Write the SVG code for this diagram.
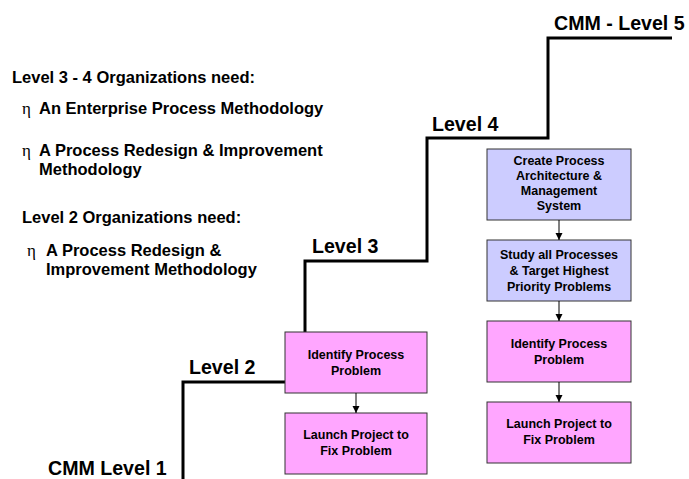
<svg xmlns="http://www.w3.org/2000/svg" width="689" height="479" viewBox="0 0 689 479">
  <defs>
    <marker id="arrowhead" viewBox="0 0 10 10" refX="10" refY="5" markerWidth="7" markerHeight="8" markerUnits="userSpaceOnUse" orient="auto">
      <path d="M0,0 L10,5 L0,10 z" fill="#000"/>
    </marker>
  </defs>
  <style>
    text { font-family: "Liberation Sans", Arial, sans-serif; font-weight: bold; fill: #000; }
    .lvl { font-size: 19.6px; }
    .head { font-size: 16.5px; }
    .item { font-size: 16.5px; }
    .bullet { font-family: "Liberation Serif", "Times New Roman", serif; font-weight: normal; font-size: 17px; }
    .box text { font-size: 12.5px; text-anchor: middle; }
    .blue rect { fill: #CCCCFF; stroke: #333; stroke-width: 1; }
    .pink rect { fill: #FFA6FF; stroke: #333; stroke-width: 1; }
    .stair { fill: none; stroke: #000; stroke-width: 3; }
    .flow { fill: none; stroke: #000; stroke-width: 1; marker-end: url(#arrowhead); }
  </style>

  <rect width="689" height="479" fill="#fff"/>

  <!-- maturity staircase -->
  <g id="staircase">
    <path class="stair" d="M183,479 V382 H285"/>
    <path class="stair" d="M305,332 V261 H427 V138 H548 V38 H672"/>
    <text class="lvl" x="48" y="475">CMM Level 1</text>
    <text class="lvl" x="189" y="374">Level 2</text>
    <text class="lvl" x="312" y="253">Level 3</text>
    <text class="lvl" x="432" y="131">Level 4</text>
    <text class="lvl" x="554" y="30">CMM - Level 5</text>
  </g>

  <!-- organisational needs -->
  <g id="needs">
    <text class="head" x="12" y="83">Level 3 - 4 Organizations need:</text>
    <text class="bullet" x="22" y="114">η</text>
    <text class="item" x="39" y="114">An Enterprise Process Methodology</text>
    <text class="bullet" x="22" y="156">η</text>
    <text class="item" x="39" y="156">A Process Redesign &amp; Improvement</text>
    <text class="item" x="39" y="175">Methodology</text>
    <text class="head" x="22" y="223">Level 2 Organizations need:</text>
    <text class="bullet" x="27" y="256">η</text>
    <text class="item" x="46" y="256">A Process Redesign &amp;</text>
    <text class="item" x="46" y="275">Improvement Methodology</text>
  </g>

  <!-- level 2 process -->
  <g id="l2-identify" class="box pink">
    <rect x="285" y="332" width="142" height="61"/>
    <text x="356" y="359">Identify Process</text>
    <text x="356" y="375">Problem</text>
  </g>
  <g id="l2-launch" class="box pink">
    <rect x="285" y="413" width="142" height="61"/>
    <text x="356" y="439">Launch Project to</text>
    <text x="356" y="455">Fix Problem</text>
  </g>

  <!-- level 4/5 process -->
  <g id="l5-architecture" class="box blue">
    <rect x="487" y="149" width="144" height="71"/>
    <text x="559" y="165">Create Process</text>
    <text x="559" y="180">Architecture &amp;</text>
    <text x="559" y="195">Management</text>
    <text x="559" y="210">System</text>
  </g>
  <g id="l5-study" class="box blue">
    <rect x="487" y="240" width="144" height="61"/>
    <text x="559" y="259">Study all Processes</text>
    <text x="559" y="275">&amp; Target Highest</text>
    <text x="559" y="291">Priority Problems</text>
  </g>
  <g id="l5-identify" class="box pink">
    <rect x="487" y="321" width="144" height="61"/>
    <text x="559" y="348">Identify Process</text>
    <text x="559" y="364">Problem</text>
  </g>
  <g id="l5-launch" class="box pink">
    <rect x="487" y="402" width="144" height="61"/>
    <text x="559" y="428">Launch Project to</text>
    <text x="559" y="444">Fix Problem</text>
  </g>

  <!-- connectors -->
  <g id="connectors">
    <path class="flow" d="M356,393 V413"/>
    <path class="flow" d="M559,220 V240"/>
    <path class="flow" d="M559,301 V321"/>
    <path class="flow" d="M559,382 V402"/>
  </g>
</svg>
